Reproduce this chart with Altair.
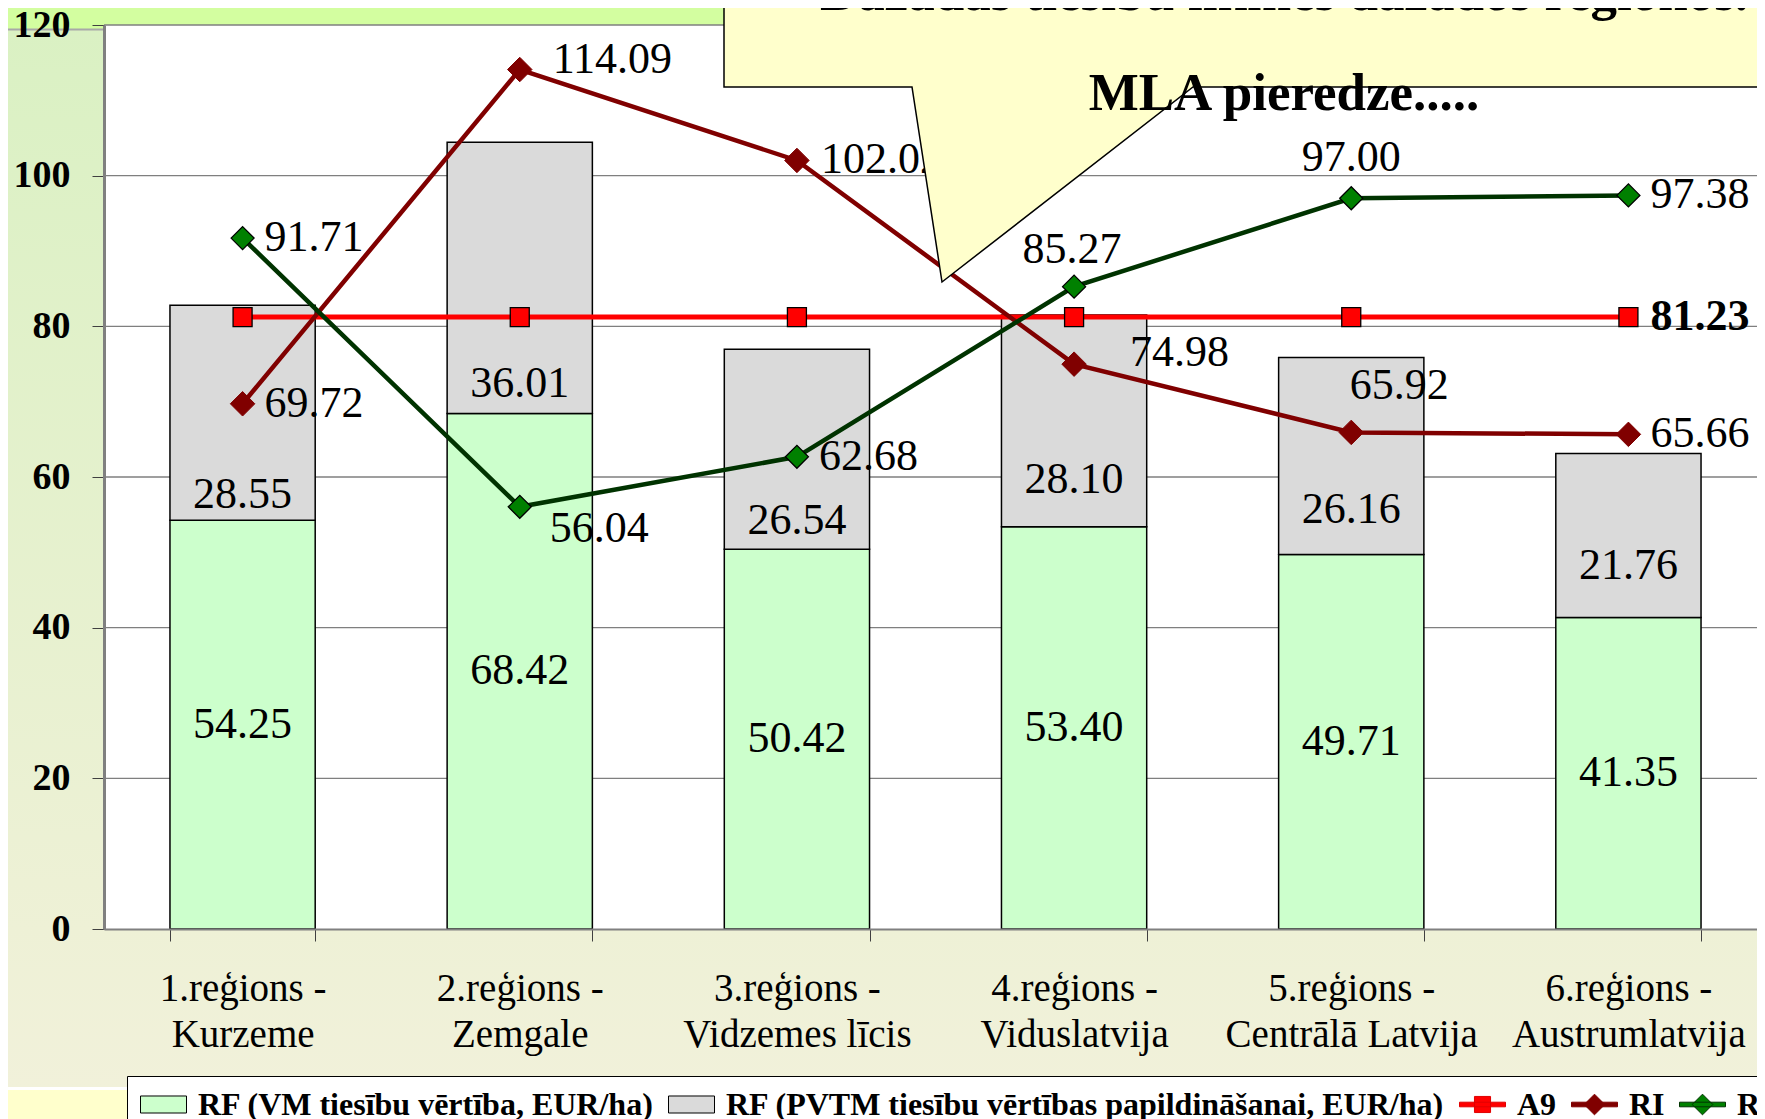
import altair as alt
import pandas as pd

# ---------------- data ----------------
categories = [
    "1.reģions - Kurzeme",
    "2.reģions - Zemgale",
    "3.reģions - Vidzemes līcis",
    "4.reģions - Viduslatvija",
    "5.reģions - Centrālā Latvija",
    "6.reģions - Austrumlatvija",
]
rf_vm = [54.25, 68.42, 50.42, 53.40, 49.71, 41.35]
rf_pvtm = [28.55, 36.01, 26.54, 28.10, 26.16, 21.76]
a9 = [81.23, 81.23, 81.23, 81.23, 81.23, 81.23]
ri = [69.72, 114.09, 102.02, 74.98, 65.92, 65.66]
rl = [91.71, 56.04, 62.68, 85.27, 97.00, 97.38]
y_ticks = [0, 20, 40, 60, 80, 100, 120]
series_names = [
    "RF (VM tiesību vērtība, EUR/ha)",
    "RF (PVTM tiesību vērtības papildināšanai, EUR/ha)",
    "A9",
    "RI",
    "RL",
]
callout_lines = ["Dažādas tiesību likmes dažādos reģionos.", "MLA pieredze....."]

# ---------------- style ----------------
FONT = "Liberation Serif"
W = 1653          # visible plot width (page is cut at the right like the original)
H = 904
X_RANGE = 1663    # the category axis continues slightly beyond the visible edge
LBL = 44

# label placements (dx, dy, align) imitating the original manual positions
ri_place = [(22, 0, "left"), (33, -10, "left"), (24, 0, "left"),
            (56, -11, "left"), (48, -46, "center"), (22, 0, "left")]
rl_place = [(22, 0, "left"), (30, 22, "left"), (22, 0, "left"),
            (-2, -37, "center"), (0, -40, "center"), (22, 0, "left")]
upper_dy = [-25, -30, -28, -47, -45, -51]

x_scale = alt.Scale(domain=categories, paddingInner=0.476, paddingOuter=0.238, range=[0, X_RANGE])
y_scale = alt.Scale(domain=[0, 120], nice=False, zero=True)

x_axis = alt.Axis(
    title=None, labelAngle=0, labelFont=FONT, labelFontSize=39, labelColor="black",
    labelLineHeight=46, labelBaseline="top", labelPadding=28, labelLimit=500,
    labelOverlap=False, tickSize=12, tickBand="extent", tickColor="#404040",
    tickWidth=1, domainColor="#808080", domainWidth=2, grid=False, zindex=1,
    labelExpr="datum.label ? [split(datum.label, ' - ')[0] + ' -', split(datum.label, ' - ')[1]] : ''",
)
y_axis = alt.Axis(
    title=None, values=y_ticks, labelFont=FONT, labelFontSize=38, labelFontWeight="bold",
    labelColor="black", labelPadding=22, tickSize=12, tickColor="#404040", tickWidth=1,
    domainColor="#808080", domainWidth=3, grid=False, zindex=1, labelOverlap=False,
)


def X():
    return alt.X("cat:N", sort=categories, scale=x_scale, axis=x_axis)


def Y(field):
    return alt.Y(field, type="quantitative", scale=y_scale, axis=y_axis)


one = alt.Data(values=[{}])


def grad(c1, c2):
    return {"gradient": "linear", "x1": 0, "x2": 0, "y1": 0, "y2": 1,
            "stops": [{"offset": 0, "color": c1}, {"offset": 1, "color": c2}]}


def rect(x1, x2, y1, y2, fill):
    return alt.Chart(one).mark_rect(fill=fill, strokeWidth=0).encode(
        x=alt.value(x1), x2=alt.value(x2), y=alt.value(y1), y2=alt.value(y2))


layers = []
# background of the slide
layers.append(rect(-300, W + 200, -60, 0, "#D3FEA0"))
layers.append(rect(-300, 0, 0, 4, "#D3FEA0"))
layers.append(rect(-300, 0, 4, H, grad("#DAF1C3", "#EEF1D6")))
layers.append(rect(-300, W + 200, H, H + 158, grad("#EEF1D6", "#F1F1DA")))
layers.append(rect(-300, W + 200, H + 158, H + 161, "#FFFFFF"))
layers.append(rect(-300, W + 200, H + 161, H + 400, "#FFFFCC"))
layers.append(alt.Chart(one).mark_rule(color="#A8A8A8", strokeWidth=2).encode(
    x=alt.value(-300), x2=alt.value(0), y=alt.value(4.5)))
# white plot area
layers.append(rect(0, W + 200, 0, H, "#FFFFFF"))

# gridlines
grid_df = pd.DataFrame({"v": [t for t in y_ticks if t > 0]})
layers.append(alt.Chart(grid_df).mark_rule(color="#7F7F7F", strokeWidth=1.3).encode(y=Y("v")))

# bars
bars = pd.DataFrame({"cat": categories, "vm": rf_vm, "pvtm": rf_pvtm})
bars["top"] = bars["vm"] + bars["pvtm"]
bars["mid"] = bars["vm"] / 2
layers.append(alt.Chart(bars).mark_bar(fill="#CCFFCC", stroke="black", strokeWidth=1.5).encode(
    x=X(), y=Y("vm")))
layers.append(alt.Chart(bars).mark_bar(fill="#DADADA", stroke="black", strokeWidth=1.5).encode(
    x=X(), y=Y("top"), y2=alt.Y2("vm")))

# bar labels
layers.append(alt.Chart(bars).mark_text(font=FONT, fontSize=LBL, color="black", baseline="middle").encode(
    x=X(), y=Y("mid"), text=alt.Text("vm:Q", format=".2f")))
for i in range(len(categories)):
    layers.append(alt.Chart(bars.iloc[[i]]).mark_text(
        font=FONT, fontSize=LBL, color="black", baseline="middle", dy=upper_dy[i]).encode(
        x=X(), y=Y("vm"), text=alt.Text("pvtm:Q", format=".2f")))

# lines
a9_df = pd.DataFrame({"cat": categories, "v": a9})
ri_df = pd.DataFrame({"cat": categories, "v": ri})
rl_df = pd.DataFrame({"cat": categories, "v": rl})

layers.append(alt.Chart(a9_df).mark_line(color="#FF0000", strokeWidth=5).encode(x=X(), y=Y("v")))
layers.append(alt.Chart(ri_df).mark_line(color="#800000", strokeWidth=4.5).encode(x=X(), y=Y("v")))
layers.append(alt.Chart(rl_df).mark_line(color="#003300", strokeWidth=4.5).encode(x=X(), y=Y("v")))

layers.append(alt.Chart(a9_df).mark_point(shape="square", filled=True, size=361, fill="#FF0000",
                                          stroke="black", strokeWidth=1.3, opacity=1).encode(x=X(), y=Y("v")))
layers.append(alt.Chart(ri_df).mark_point(shape="diamond", filled=True, size=600, fill="#800000",
                                          stroke="#800000", strokeWidth=1, opacity=1).encode(x=X(), y=Y("v")))
layers.append(alt.Chart(rl_df).mark_point(shape="diamond", filled=True, size=529, fill="#008000",
                                          stroke="black", strokeWidth=1.3, opacity=1).encode(x=X(), y=Y("v")))

# line labels
for df, place in ((ri_df, ri_place), (rl_df, rl_place)):
    for i in range(len(categories)):
        dx, dy, al = place[i]
        layers.append(alt.Chart(df.iloc[[i]]).mark_text(
            font=FONT, fontSize=LBL, color="black", baseline="middle", align=al, dx=dx, dy=dy).encode(
            x=X(), y=Y("v"), text=alt.Text("v:Q", format=".2f")))
layers.append(alt.Chart(a9_df.iloc[[len(categories) - 1]]).mark_text(
    font=FONT, fontSize=LBL, fontWeight="bold", color="black", baseline="middle", align="left", dx=22).encode(
    x=X(), y=Y("v"), text=alt.Text("v:Q", format=".2f")))

# callout (speech bubble)
callout_path = "M620,-80L1900,-80L1900,62L1089,62L838,257L808,62L620,62Z"
layers.append(alt.Chart(one).mark_point(shape=callout_path, size=4, filled=True, fill="#FFFFCC",
                                        stroke="black", strokeWidth=1.5, opacity=1).encode(
    x=alt.value(0), y=alt.value(0)))
layers.append(alt.Chart(one).mark_text(font=FONT, fontSize=53, fontWeight="bold", color="black",
                                       align="center", baseline="alphabetic", text=callout_lines[0]).encode(
    x=alt.value(1180), y=alt.value(-15)))
layers.append(alt.Chart(one).mark_text(font=FONT, fontSize=53, fontWeight="bold", color="black",
                                       align="center", baseline="alphabetic", text=callout_lines[1]).encode(
    x=alt.value(1180), y=alt.value(85)))

# legend (carried by an off-canvas helper layer)
s = 0.348
bar_sym = f"M{-1+s},-0.37L{1+s},-0.37L{1+s},0.37L{-1+s},0.37Z"
line_part = f"M{-1+s},-0.1L{1+s},-0.1L{1+s},0.1L{-1+s},0.1Z"
sq_part = f"M{s-0.35},-0.35L{s+0.35},-0.35L{s+0.35},0.35L{s-0.35},0.35Z"
dia_part = f"M{s-0.45},0L{s},-0.45L{s+0.45},0L{s},0.45Z"
sym_paths = [bar_sym, bar_sym, line_part + sq_part, line_part + dia_part, line_part + dia_part]
sym_fills = ["#CCFFCC", "#DADADA", "#FF0000", "#800000", "#008000"]
sym_strokes = ["black", "black", "#E00000", "#800000", "#003300"]

leg = alt.Legend(
    title=None, orient="none", legendX=23, legendY=1051, direction="horizontal", columns=5,
    gridAlign="none", labelFont=FONT, labelFontSize=32, labelFontWeight="bold", labelColor="black",
    labelLimit=2000, symbolSize=2116, symbolStrokeWidth=1, labelOffset=19, columnPadding=6,
    padding=5, strokeColor="black", fillColor="white",
)
legend_df = pd.DataFrame({"series": series_names})
layers.append(alt.Chart(legend_df).mark_point(filled=True, opacity=1).encode(
    x=alt.value(-500), y=alt.value(-500),
    shape=alt.Shape("series:N", scale=alt.Scale(domain=series_names, range=sym_paths), legend=leg),
    fill=alt.Fill("series:N", scale=alt.Scale(domain=series_names, range=sym_fills), legend=leg),
    stroke=alt.Stroke("series:N", scale=alt.Scale(domain=series_names, range=sym_strokes), legend=leg),
))

chart = alt.layer(*layers).properties(
    width=W, height=H,
    autosize=alt.AutoSizeParams(type="none"),
    padding={"left": 96, "top": 17, "right": 0, "bottom": 200},
).configure_view(strokeWidth=0, fill="white").configure(background="#EFF1D6")

chart.save("out.html", embed_options={"renderer": "svg", "actions": False})
